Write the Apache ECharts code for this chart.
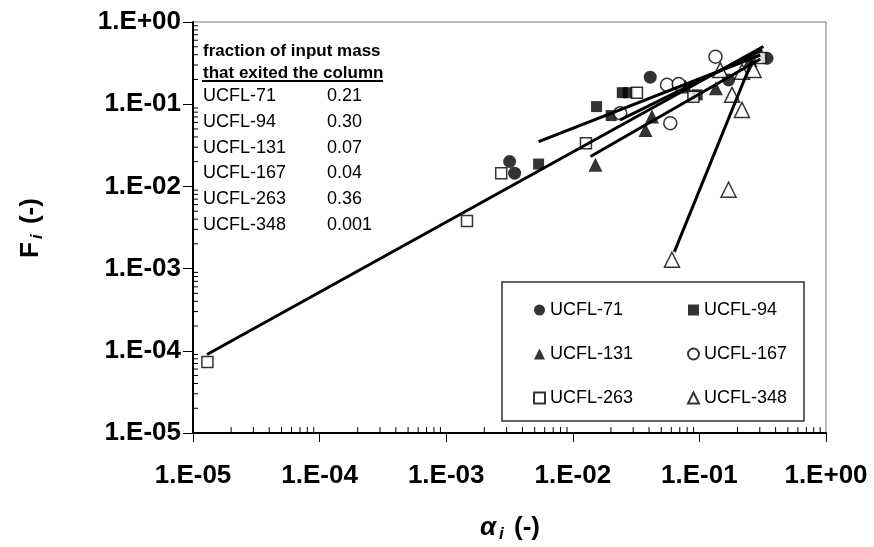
<!DOCTYPE html>
<html><head><meta charset="utf-8">
<script src="https://cdn.jsdelivr.net/npm/echarts@6/dist/echarts.min.js"></script>
<style>html,body{margin:0;padding:0;background:#fff}#c{width:874px;height:547px}</style>
</head><body><div id="c"></div>
<script>
// ---- data ----
const seriesNames = ['UCFL-71', 'UCFL-94', 'UCFL-131', 'UCFL-167', 'UCFL-263', 'UCFL-348'];
const alpha71 = [3.17e-3, 3.47e-3, 0.0409, 0.170, 0.342];
const F71     = [0.0201, 0.0145, 0.213, 0.197, 0.362];
const alpha94 = [5.37e-3, 0.0154, 0.0201, 0.0246, 0.0274, 0.096];
const F94     = [0.0187, 0.0935, 0.0727, 0.138, 0.138, 0.130];
const alpha131 = [0.0151, 0.0375, 0.0422, 0.0776, 0.135, 0.253];
const F131     = [0.0183, 0.0487, 0.0707, 0.164, 0.156, 0.345];
const alpha167 = [0.0237, 0.0555, 0.0686, 0.0589, 0.134];
const F167     = [0.0777, 0.172, 0.176, 0.0588, 0.379];
const alpha263 = [1.30e-5, 1.46e-3, 2.72e-3, 0.0127, 0.0321, 0.0897, 0.303];
const F263     = [7.33e-5, 3.8e-3, 0.0145, 0.0336, 0.138, 0.123, 0.365];
const alpha348 = [0.0607, 0.170, 0.217, 0.181, 0.146, 0.217, 0.268];
const F348     = [1.28e-3, 9.1e-3, 0.0853, 0.130, 0.26, 0.249, 0.261];
// fitted power-law lines (end points)
const fit263 = [[1.29e-5, 9.0e-5], [0.32, 0.504]];
const fit94  = [[5.37e-3, 0.0351], [0.303, 0.397]];
const fit131 = [[0.0138, 0.0231], [0.303, 0.355]];
const fit167 = [[0.0237, 0.0645], [0.314, 0.457]];
const fit348 = [[0.0634, 1.6e-3], [0.262, 0.345]];
// annotation table
const tableHeader = ['fraction of input mass', 'that exited the column'];
const tableNames = ['UCFL-71', 'UCFL-94', 'UCFL-131', 'UCFL-167', 'UCFL-263', 'UCFL-348'];
const tableValues = ['0.21', '0.30', '0.07', '0.04', '0.36', '0.001'];
// axes
const xMin = 1e-5, xMax = 1, yMin = 1e-5, yMax = 1;
const minorMultipliers = [2, 3, 4, 5, 6, 7, 8, 9];

const FONT = '"Liberation Sans", Arial, Helvetica, sans-serif';
function sci(v) {
  const e = Math.round(Math.log10(v));
  const s = e < 0 ? '-' : '+';
  const a = Math.abs(e);
  return '1.E' + s + (a < 10 ? '0' : '') + a;
}
function zip(xs, ys) { return xs.map((x, i) => [x, ys[i]]); }

const filled = { color: '#000' };
const open = { color: '#fff', borderColor: '#000', borderWidth: 1.5 };

const chart = echarts.init(document.getElementById('c'), null, { renderer: 'canvas' });
const pointSeries = [
  { name: 'UCFL-71', data: zip(alpha71, F71), symbol: 'circle', symbolSize: 13, itemStyle: filled },
  { name: 'UCFL-94', data: zip(alpha94, F94), symbol: 'rect', symbolSize: 11, itemStyle: filled },
  { name: 'UCFL-131', data: zip(alpha131, F131), symbol: 'triangle', symbolSize: 14, itemStyle: filled },
  { name: 'UCFL-167', data: zip(alpha167, F167), symbol: 'circle', symbolSize: 13, itemStyle: open },
  { name: 'UCFL-263', data: zip(alpha263, F263), symbol: 'rect', symbolSize: 11, itemStyle: open },
  { name: 'UCFL-348', data: zip(alpha348, F348), symbol: 'triangle', symbolSize: 15, itemStyle: open }
].map(s => Object.assign({ type: 'scatter', z: 3 }, s));

const fitSeries = [fit263, fit94, fit131, fit167, fit348].map((d, i) => ({
  type: 'line', name: 'fit' + i, data: d, symbol: 'none', silent: true, z: 4,
  lineStyle: { color: '#000', width: 3 }
}));

const legendCommon = {
  orient: 'vertical', itemWidth: 11, itemHeight: 11, itemGap: 26,
  textStyle: { fontFamily: FONT, fontSize: 18, color: '#000' },
  selectedMode: false
};

chart.setOption({
  animation: false,
  backgroundColor: '#fff',
  grid: { left: 193, top: 22, width: 633, height: 411, show: true, borderColor: '#777', borderWidth: 1 },
  xAxis: {
    type: 'log', logBase: 10, min: xMin, max: xMax,
    axisLine: { show: true, lineStyle: { color: '#000', width: 2 } },
    axisTick: { show: true, inside: false, length: 9, lineStyle: { color: '#000', width: 1 } },
    splitLine: { show: false },
    axisLabel: { formatter: sci, fontFamily: FONT, fontWeight: 'bold', fontSize: 26, color: '#000', margin: 30 }
  },
  yAxis: {
    type: 'log', logBase: 10, min: yMin, max: yMax,
    axisLine: { show: true, lineStyle: { color: '#000', width: 2 } },
    axisTick: { show: true, inside: false, length: 10, lineStyle: { color: '#000', width: 1 } },
    splitLine: { show: false },
    axisLabel: { formatter: sci, fontFamily: FONT, fontWeight: 'bold', fontSize: 26, color: '#000', margin: 12 }
  },
  legend: [
    Object.assign({ left: 528, top: 296, data: ['UCFL-71', 'UCFL-131', 'UCFL-263'] }, legendCommon),
    Object.assign({ left: 682, top: 296, data: ['UCFL-94', 'UCFL-167', 'UCFL-348'] }, legendCommon)
  ],
  series: fitSeries.concat(pointSeries)
});

// ---- graphic overlays: minor ticks (through axis scale), legend box, annotation, axis titles ----
const g = [];
const x0 = chart.convertToPixel({ xAxisIndex: 0 }, xMin);
const y0 = chart.convertToPixel({ yAxisIndex: 0 }, yMin);
for (let e = -5; e < 0; e++) {
  minorMultipliers.forEach(m => {
    const v = m * Math.pow(10, e);
    const px = chart.convertToPixel({ xAxisIndex: 0 }, v);
    g.push({ type: 'line', shape: { x1: px, y1: y0, x2: px, y2: y0 - 6 }, style: { stroke: '#000', lineWidth: 1 }, z: 10 });
    const py = chart.convertToPixel({ yAxisIndex: 0 }, v);
    g.push({ type: 'line', shape: { x1: x0, y1: py, x2: x0 + 5, y2: py }, style: { stroke: '#000', lineWidth: 1 }, z: 10 });
  });
}
g.push({ type: 'rect', shape: { x: 502, y: 282, width: 302, height: 139 }, style: { fill: 'none', stroke: '#333', lineWidth: 1.5 }, z: 1 });
tableHeader.forEach((t, i) => {
  g.push({ type: 'text', x: 203, y: 51 + i * 22.6, style: { text: t, font: 'bold 17px ' + FONT, fill: '#000', verticalAlign: 'middle' }, z: 10 });
});
g.push({ type: 'line', shape: { x1: 202, y1: 81, x2: 383, y2: 81 }, style: { stroke: '#000', lineWidth: 2 }, z: 10 });
tableNames.forEach((t, i) => {
  const y = 96 + i * 25.8;
  g.push({ type: 'text', x: 203, y: y, style: { text: t, font: '18px ' + FONT, fill: '#000', verticalAlign: 'middle' }, z: 10 });
  g.push({ type: 'text', x: 327, y: y, style: { text: tableValues[i], font: '18px ' + FONT, fill: '#000', verticalAlign: 'middle' }, z: 10 });
});
const rich = {
  b: { fontFamily: FONT, fontWeight: 'bold', fontSize: 26, fill: '#000' },
  bi: { fontFamily: FONT, fontWeight: 'bold', fontStyle: 'italic', fontSize: 26, fill: '#000' },
  s: { fontFamily: FONT, fontWeight: 'bold', fontStyle: 'italic', fontSize: 17, fill: '#000', padding: [12, 3, 0, 3] }
};
g.push({ type: 'text', x: 510, y: 528, style: { text: '{bi|α}{s|i}{b| (-)}', rich: rich, align: 'center', verticalAlign: 'middle' }, z: 10 });
g.push({ type: 'text', x: 31, y: 228, rotation: Math.PI / 2, style: { text: '{b|F}{s|i}{b| (-)}', rich: rich, align: 'center', verticalAlign: 'middle' }, z: 10 });
chart.setOption({ graphic: g });
</script>
</body></html>
